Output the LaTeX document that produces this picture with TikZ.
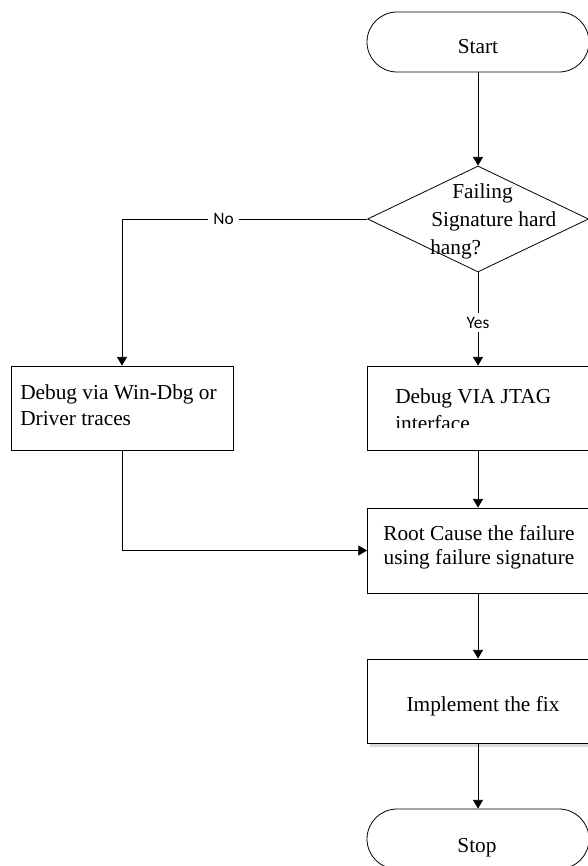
\documentclass[tikz,border=0pt]{standalone}
\usepackage{fontspec}
\setmainfont{Liberation Serif}
\newfontfamily\lblfont{Carlito}
\usetikzlibrary{shapes.geometric,shapes.misc,arrows.meta}
\begin{document}
\begin{tikzpicture}[x=0.75pt,y=-0.75pt,
  line/.style={line width=0.6pt,draw=black},
  arr/.style={line, -{Triangle[width=7.5pt,length=6.5pt]}},
  term/.style={line, rounded rectangle, minimum width=166.5pt, minimum height=45pt, inner sep=0pt},
  proc/.style={line, rectangle, fill=white, minimum width=166.5pt, minimum height=63pt, inner sep=0pt},
  dec/.style={line, diamond, minimum width=165.75pt, minimum height=79.5pt, inner sep=0pt},
  txt/.style={font=\fontsize{16}{20}\selectfont, inner sep=0pt},
  lbl/.style={font=\lblfont\fontsize{13}{15}\selectfont, fill=white, inner xsep=4pt, inner ysep=3pt}
]
\useasboundingbox (0,0) rectangle (588,866);

% shapes
\node[term] (start) at (478,42) {};
\node[dec] (dec) at (478,219) {};
\node[proc] (wdbg) at (122,408) {};
\node[proc, minimum width=168pt, anchor=west] (jtag) at (367,408) {};
\node[proc, minimum width=168pt, minimum height=63.75pt, anchor=west] (root) at (367,550.5) {};
\fill[gray!30] (370,664) rectangle (600,747);
\node[proc, minimum width=168pt, anchor=west] (fix) at (367,701) {};
\node[term] (stop) at (478,839) {};

% texts
\node[txt, anchor=base] (tstart) at (478,54) {Start};
\node[txt, anchor=base west] (tfail1) at (452,199) {Failing};
\node[txt, anchor=base west] (tfail2) at (431,227) {Signature hard};
\node[txt, anchor=base west] (tfail3) at (430,254) {hang?};
\node[txt, anchor=base west] (tw1) at (20,399) {Debug via Win-Dbg or};
\node[txt, anchor=base west] (tw2) at (20,425) {Driver traces};
\node[txt, anchor=base west] (tj1) at (395,403) {Debug VIA JTAG};
\begin{scope}
  \clip (368,408) rectangle (588,427.5);
  \node[txt, anchor=base west] (tj2) at (395,430) {interface};
\end{scope}
\node[txt, anchor=base] (tr1) at (479,540) {Root Cause the failure};
\node[txt, anchor=base] (tr2) at (479,564) {using failure signature};
\node[txt, anchor=base] (tfix) at (483,711) {Implement the fix};
\node[txt, anchor=base] (tstop) at (477,852) {Stop};

% connectors
\coordinate (noturn) at (122,219);
\draw[arr] (start.south) -- (dec.north);
\draw[arr] (dec.west) -- node[lbl, pos=0.586] (no) {No} (noturn) -- (wdbg.north);
\draw[arr] (dec.south) -- node[lbl, pos=0.54] (yes) {Yes} (dec.south |- jtag.north);
\draw[arr] (jtag.south -| dec.south) -- (root.north -| dec.south);
\draw[arr] (wdbg.south) |- (root.west);
\draw[arr] (root.south -| dec.south) -- (fix.north -| dec.south);
\draw[arr] (fix.south -| dec.south) -- (stop.north);
\end{tikzpicture}
\end{document}
